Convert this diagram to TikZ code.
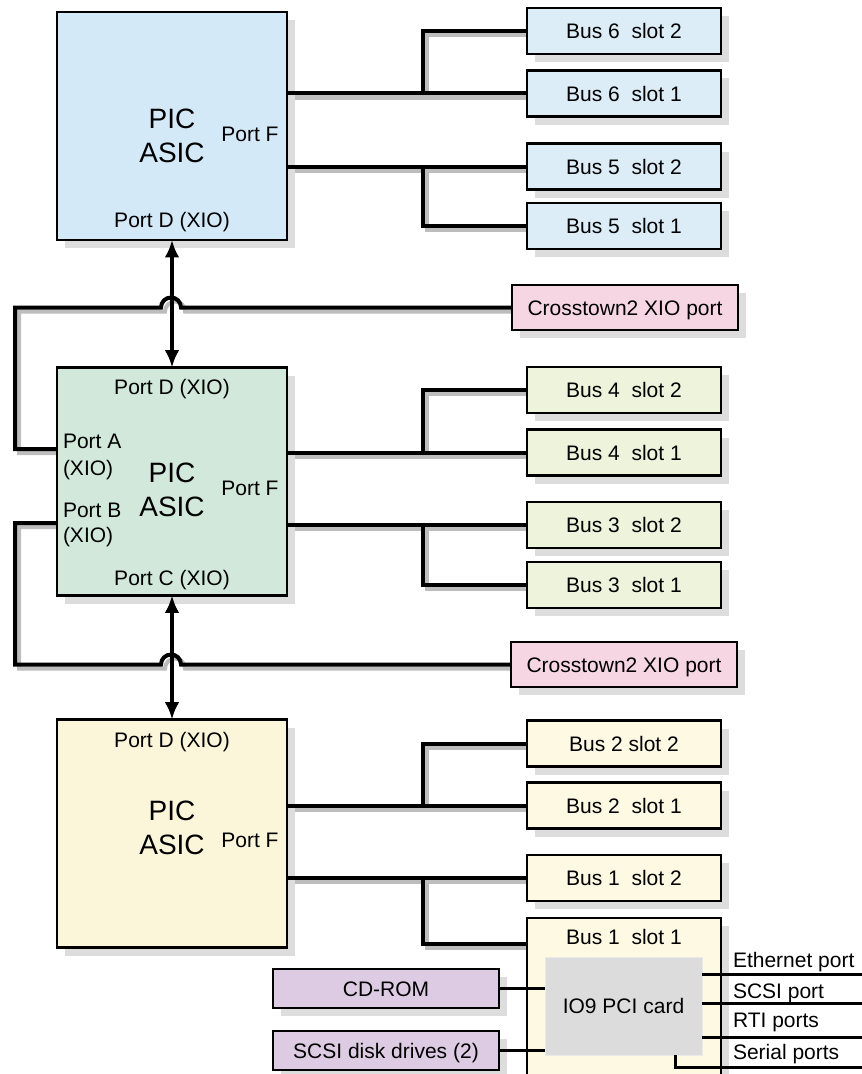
\documentclass[tikz,border=0pt]{standalone}
\usepackage{fontspec}
\setmainfont{Liberation Sans}
\usetikzlibrary{arrows.meta,shadows}
\pgfdeclarelayer{lsh}
\pgfsetlayers{lsh,main}
\definecolor{cblueA}{HTML}{D3E9F8}
\definecolor{cblueB}{HTML}{DCEDF7}
\definecolor{cgreenA}{HTML}{D1E8DB}
\definecolor{cgreenB}{HTML}{EEF3DC}
\definecolor{cyelA}{HTML}{FBF5DA}
\definecolor{cyelB}{HTML}{FDF9E3}
\definecolor{cpink}{HTML}{F7D6E3}
\definecolor{cpurp}{HTML}{DCCBE2}
\definecolor{cgrayio}{HTML}{DCDCDC}
\definecolor{cshadow}{HTML}{DDDDDD}
\definecolor{clshadow}{HTML}{BDBDBD}
\newcommand\shline[1]{\begin{pgfonlayer}{lsh}\draw[lshadow] #1;\end{pgfonlayer}\draw[conn] #1;}
\begin{document}
\begin{tikzpicture}[x=0.75pt,y=-0.75pt,
  every node/.style={inner sep=0pt, outer sep=0pt},
  txt/.style={font=\fontsize{15.75}{19}\selectfont},
  big/.style={font=\fontsize{21}{25}\selectfont},
  boxshadow/.style={drop shadow={shadow xshift=6pt,shadow yshift=-6pt,fill=cshadow,opacity=1}},
  picbox/.style={draw, line width=2.2pt, boxshadow, minimum width=172.5pt, minimum height=171pt},
  busbox/.style={draw, line width=2pt, boxshadow, minimum width=145.5pt, minimum height=34.5pt, txt, text height=11.3pt, text depth=0pt},
  ctbox/.style={draw, line width=2pt, boxshadow, fill=cpink, minimum width=169.5pt, minimum height=33.75pt, txt, text height=11.3pt, text depth=0pt},
  devbox/.style={draw, line width=2pt, boxshadow, fill=cpurp, minimum width=169.5pt, minimum height=29.25pt, txt, text height=11.3pt, text depth=0pt},
  conn/.style={draw=black, line width=3pt},
  lshadow/.style={draw=clshadow, line width=3pt, transform canvas={shift={(4,4)}}},
  portline/.style={draw=black, line width=2.25pt},
  dbl/.style={draw=black, line width=3pt, {Latex[length=13pt,width=11pt]}-{Latex[length=13pt,width=11pt]}}
]
\useasboundingbox (0,0) rectangle (862,1074);
\clip (0,0) rectangle (862,1074);

% PIC boxes
\node[picbox, fill=cblueA] (picT) at (172,126) {};
\node[picbox, fill=cgreenA] (picM) at (172,481.5) {};
\node[picbox, fill=cyelA] (picB) at (172,833.5) {};

% top PIC texts
\node[big, anchor=base] (tPIC) at (172,128) {PIC};
\node[big, anchor=base] (tASIC) at (172,162) {ASIC};
\node[txt, anchor=base] (tPF) at (250,142) {Port F};
\node[txt, anchor=base] (tPD) at (172,227) {Port D (XIO)};

% middle PIC texts
\node[txt, anchor=base] (mPD) at (172,394) {Port D (XIO)};
\node[txt, anchor=base west] (mPA) at (63,448) {Port A};
\node[txt, anchor=base west] (mPAx) at (63,475) {(XIO)};
\node[big, anchor=base] (mPIC) at (172,482) {PIC};
\node[big, anchor=base] (mASIC) at (172,516) {ASIC};
\node[txt, anchor=base] (mPF) at (250,495) {Port F};
\node[txt, anchor=base west] (mPB) at (63,517) {Port B};
\node[txt, anchor=base west] (mPBx) at (63,542) {(XIO)};
\node[txt, anchor=base] (mPC) at (172,585) {Port C (XIO)};

% bottom PIC texts
\node[txt, anchor=base] (bPD) at (172,747) {Port D (XIO)};
\node[big, anchor=base] (bPIC) at (172,820) {PIC};
\node[big, anchor=base] (bASIC) at (172,854) {ASIC};
\node[txt, anchor=base] (bPF) at (250,847) {Port F};

% bus boxes
\node[busbox, fill=cblueB] (b6s2) at (624,31) {Bus 6~~slot 2};
\node[busbox, fill=cblueB] (b6s1) at (624,93.5) {Bus 6~~slot 1};
\node[busbox, fill=cblueB] (b5s2) at (624,166.5) {Bus 5~~slot 2};
\node[busbox, fill=cblueB] (b5s1) at (624,226) {Bus 5~~slot 1};
\node[busbox, fill=cgreenB] (b4s2) at (624,390) {Bus 4~~slot 2};
\node[busbox, fill=cgreenB] (b4s1) at (624,452.5) {Bus 4~~slot 1};
\node[busbox, fill=cgreenB] (b3s2) at (624,525) {Bus 3~~slot 2};
\node[busbox, fill=cgreenB] (b3s1) at (624,585) {Bus 3~~slot 1};
\node[busbox, fill=cyelB] (b2s2) at (624,743.5) {Bus 2 slot 2};
\node[busbox, fill=cyelB] (b2s1) at (624,805.5) {Bus 2~~slot 1};
\node[busbox, fill=cyelB] (b1s2) at (624,878) {Bus 1~~slot 2};
\node[draw, line width=2pt, boxshadow, fill=cyelB, minimum width=145.5pt, minimum height=150pt] (b1s1) at (624,1018) {};
\node[txt, anchor=base] (b1s1t) at (624,944) {Bus 1~~slot 1};

% crosstown boxes
\node[ctbox] (ct1) at (625,307.5) {Crosstown2 XIO port};
\node[ctbox] (ct2) at (624,664.5) {Crosstown2 XIO port};

% IO9 card and devices
\node[fill=cgrayio, draw=cgrayio!60!white, line width=0.6pt, minimum width=117.75pt, minimum height=73.5pt, txt] (io9) at (623.5,1006) {IO9 PCI card};
\node[devbox] (cd) at (386,988.5) {CD-ROM};
\node[devbox] (sd) at (386,1050.5) {SCSI disk drives (2)};

% junction coordinates
\coordinate (j6) at (423,93.5);
\coordinate (j5) at (423,166.5);
\coordinate (j4) at (423,452.5);
\coordinate (j3) at (423,525);
\coordinate (j2) at (423,805.5);
\coordinate (j1) at (423,878);
\coordinate (b1in) at (527,944);
\coordinate (pA) at (57,449);
\coordinate (pB) at (57,523);

% bus connectors
\shline{(picT.east |- b6s1) -- (b6s1.west)}
\shline{(j6) |- (b6s2.west)}
\shline{(picT.east |- b5s2) -- (b5s2.west)}
\shline{(j5) |- (b5s1.west)}
\shline{(picM.east |- b4s1) -- (b4s1.west)}
\shline{(j4) |- (b4s2.west)}
\shline{(picM.east |- b3s2) -- (b3s2.west)}
\shline{(j3) |- (b3s1.west)}
\shline{(picB.east |- b2s1) -- (b2s1.west)}
\shline{(j2) |- (b2s2.west)}
\shline{(picB.east |- b1s2) -- (b1s2.west)}
\shline{(j1) |- (b1in)}

% crosstown loops with hops
\shline{(pA) -| (15,307.5) -- (161,307.5) arc[start angle=180,end angle=360,radius=10] -- (ct1.west)}
\shline{(pB) -| (15,664.5) -- (161,664.5) arc[start angle=180,end angle=360,radius=10] -- (ct2.west)}

% XIO arrows
\draw[dbl] (picT.south) -- (picM.north);
\draw[dbl] (picM.south) -- (picB.north);

% device connectors
\draw[portline] (cd.east) -- (cd.east -| io9.west);
\draw[portline] (sd.east) -- (sd.east -| io9.west);

% external ports
\coordinate (eth) at (862,974);
\coordinate (scs) at (862,1003);
\coordinate (rti) at (862,1037);
\coordinate (sers) at (675,1055);
\coordinate (sere) at (862,1067);
\draw[portline] (eth -| io9.east) -- (eth);
\draw[portline] (scs -| io9.east) -- (scs);
\draw[portline] (rti -| io9.east) -- (rti);
\draw[portline] (sers) |- (sere);
\node[txt, anchor=base west] (lEth) at (733,967) {Ethernet port};
\node[txt, anchor=base west] (lScs) at (733,998) {SCSI port};
\node[txt, anchor=base west] (lRti) at (733,1027) {RTI ports};
\node[txt, anchor=base west] (lSer) at (733,1059) {Serial ports};
\end{tikzpicture}
\end{document}
